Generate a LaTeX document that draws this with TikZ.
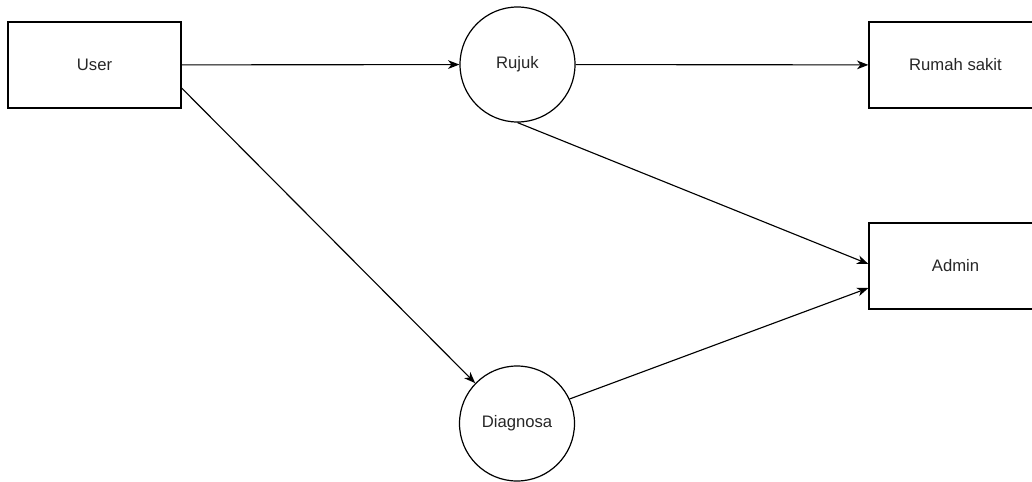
\documentclass[tikz,border=0pt]{standalone}
\usepackage{fontspec}
\setmainfont{Liberation Sans}
\usetikzlibrary{arrows.meta}
\tikzset{
  ent/.style={draw,line width=0.9pt,minimum width=129.75pt,minimum height=64.5pt,inner sep=0pt,font=\fontsize{12.5}{15}\selectfont,text=black!85},
  proc/.style={draw,circle,line width=0.9pt,minimum size=86.25pt,inner sep=0pt,font=\fontsize{12.5}{15}\selectfont,text=black!85},
  flw/.style={line width=0.85pt,-{Stealth[length=8.5pt,width=6.5pt,inset=2.5pt]}}
}

\begin{document}
\begin{tikzpicture}[x=0.75pt,y=-0.75pt]
\useasboundingbox (0,0) rectangle (1032,482);
\node[ent] (user) at (94.5,65) {User};
\node[proc] (rujuk) at (517.5,64.5) {Rujuk};
\node[ent] (rumah) at (955.5,65) {Rumah sakit};
\node[ent] (admin) at (955.5,266) {Admin};
\node[proc] (diagnosa) at (517,423.5) {Diagnosa};
\draw[flw] (user) -- (rujuk);
\draw[flw] (rujuk) -- (rumah);
\draw[flw] (rujuk.south) -- ([yshift=1.5pt]admin.west);
\draw[flw] ([yshift=-17.25pt]user.east) -- (diagnosa.136);
\draw[flw] (diagnosa.25) -- ([yshift=-16.5pt]admin.west);
\end{tikzpicture}
\end{document}
